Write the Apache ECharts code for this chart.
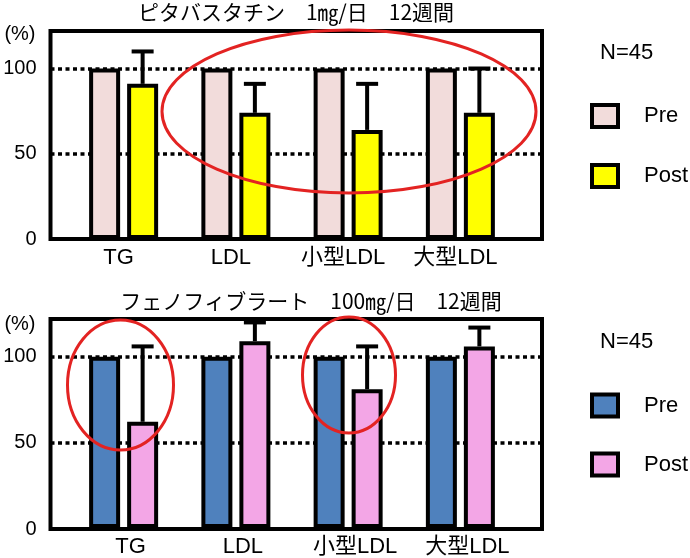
<!DOCTYPE html>
<html>
<head>
<meta charset="utf-8">
<script src="https://cdn.jsdelivr.net/npm/echarts@6/dist/echarts.min.js"></script>
<style>
html,body{margin:0;padding:0;background:#fff;}
#c{width:690px;height:558px;}
</style>
</head>
<body>
<div id="c"></div>
<script>
// ---- data ----
const categories = ['TG', 'LDL', '小型LDL', '大型LDL'];
const yTicks = [0, 50, 100];
const pitaTitle = 'ピタバスタチン　1㎎/日　12週間';
const fenoTitle = 'フェノフィブラート　100㎎/日　12週間';
const nLabel = 'N=45';
const pitaPre = [100, 100, 100, 100];
const pitaPost = [91, 74, 64, 74];
const pitaPostSD = [19, 17, 27, 26];
const fenoPre = [100, 100, 100, 100];
const fenoPost = [62, 109, 81, 106];
const fenoPostSD = [44, 11, 25, 11];

const LAT = "'Liberation Sans', Arial, 'Noto Sans CJK JP', sans-serif";
const JP = "'Noto Sans CJK JP', sans-serif";
const YMAX = 122;
const BAR_W = 31, BAR_GAP_PX = 7;
const POST_OFF = (BAR_W + BAR_GAP_PX) / 2;
const LW = 4;

function errRender(params, api) {
  const i = api.value(0), v = api.value(1), sd = api.value(2);
  const b = api.coord([i, v]);
  const t = api.coord([i, v + sd]);
  const x = b[0] + POST_OFF;
  return {
    type: 'group',
    children: [
      {type: 'line', shape: {x1: x, y1: b[1], x2: x, y2: t[1]}, style: {stroke: '#000', lineWidth: LW}},
      {type: 'line', shape: {x1: x - 11, y1: t[1], x2: x + 11, y2: t[1]}, style: {stroke: '#000', lineWidth: LW}}
    ]
  };
}

function boxY(gridIndex, gap) {
  return {
    gridIndex, type: 'value', min: 0, max: YMAX, interval: 50,
    name: '(%)', nameLocation: 'end', nameGap: gap,
    nameTextStyle: {fontFamily: LAT, fontSize: 20, color: '#000', align: 'right', verticalAlign: 'middle', padding: [0, 15, 0, 0]},
    axisLine: {show: false}, axisTick: {show: false},
    axisLabel: {fontFamily: LAT, fontSize: 20, color: '#000', margin: 14,
      formatter: v => yTicks.includes(v) ? String(v) : ''},
    splitLine: {show: true, lineStyle: {color: '#000', width: 3.5, type: [4, 3.5]}}
  };
}
function dataY(gridIndex) {
  return {gridIndex, type: 'value', min: 0, max: YMAX, show: false, splitLine: {show: false}};
}
function dataX(gridIndex, pad) {
  return {
    gridIndex, type: 'category', data: categories,
    axisLine: {show: false}, axisTick: {show: false},
    axisLabel: {fontFamily: LAT, fontSize: 22, color: '#000', margin: 8, padding: pad}
  };
}
function barSeries(name, xi, yi, data, color) {
  return {
    name, type: 'bar', xAxisIndex: xi, yAxisIndex: yi, data,
    barWidth: BAR_W, barGap: (BAR_GAP_PX / BAR_W * 100) + '%',
    itemStyle: {color, borderColor: '#000', borderWidth: LW},
    emphasis: {disabled: true}
  };
}
function errSeries(name, xi, yi, post, sd) {
  return {
    name, type: 'custom', xAxisIndex: xi, yAxisIndex: yi, clip: false,
    renderItem: errRender, z: 5,
    data: categories.map((c, i) => [i, post[i], sd[i]])
  };
}
function legend(top, names, gap) {
  return {
    orient: 'vertical', left: 590, top, padding: 0, itemGap: gap,
    itemWidth: 26, itemHeight: 22, icon: 'rect',
    itemStyle: {borderColor: '#000', borderWidth: LW},
    textStyle: {fontFamily: LAT, fontSize: 22, color: '#000', padding: [0, 0, 0, 21]},
    formatter: n => n.replace('2', ''),
    data: names, selectedMode: false
  };
}

const chart = echarts.init(document.getElementById('c'), null, {renderer: 'canvas'});
chart.setOption({
  animation: false,
  backgroundColor: '#fff',
  title: [
    {text: pitaTitle, left: 296, top: 2, textAlign: 'center', padding: 0,
      textStyle: {fontFamily: JP, fontSize: 21, fontWeight: 'normal', color: '#000'}},
    {text: fenoTitle, left: 311, top: 291, textAlign: 'center', padding: 0,
      textStyle: {fontFamily: JP, fontSize: 21, fontWeight: 'normal', color: '#000'}},
    {text: nLabel, left: 600, top: 42, padding: 0,
      textStyle: {fontFamily: LAT, fontSize: 22, fontWeight: 'normal', color: '#000'}},
    {text: nLabel, left: 600, top: 331, padding: 0,
      textStyle: {fontFamily: LAT, fontSize: 22, fontWeight: 'normal', color: '#000'}}
  ],
  legend: [
    legend(103, ['Pre', 'Post'], 34),
    legend(392.5, ['Pre2', 'Post2'], 33)
  ],
  grid: [
    {left: 50.5, width: 491.5, top: 31, height: 208, show: true, borderColor: '#000', borderWidth: LW, backgroundColor: 'transparent'},
    {left: 67.5, width: 449, top: 31, height: 208},
    {left: 50.5, width: 491.5, top: 319, height: 210, show: true, borderColor: '#000', borderWidth: LW, backgroundColor: 'transparent'},
    {left: 67.5, width: 449, top: 319, height: 210}
  ],
  xAxis: [
    {gridIndex: 0, type: 'value', show: false, splitLine: {show: false}},
    dataX(1, [0, 10, 0, 0]),
    {gridIndex: 2, type: 'value', show: false, splitLine: {show: false}},
    dataX(3, [0, 0, 0, 14])
  ],
  yAxis: [boxY(0, -3), dataY(1), boxY(2, -5), dataY(3)],
  series: [
    barSeries('Pre', 1, 1, pitaPre, '#f2dcdb'),
    barSeries('Post', 1, 1, pitaPost, '#ffff00'),
    errSeries('errTop', 1, 1, pitaPost, pitaPostSD),
    barSeries('Pre2', 3, 3, fenoPre, '#4f81bd'),
    barSeries('Post2', 3, 3, fenoPost, '#f3a6e6'),
    errSeries('errBottom', 3, 3, fenoPost, fenoPostSD)
  ],
  graphic: [
    {type: 'ellipse', z: 100, shape: {cx: 349, cy: 111.5, rx: 187, ry: 81.5}, style: {fill: null, stroke: '#e32322', lineWidth: 3}},
    {type: 'ellipse', z: 100, shape: {cx: 120.5, cy: 385, rx: 53, ry: 65}, style: {fill: null, stroke: '#e32322', lineWidth: 3}},
    {type: 'ellipse', z: 100, shape: {cx: 349, cy: 375, rx: 46.5, ry: 58}, style: {fill: null, stroke: '#e32322', lineWidth: 3}}
  ]
});
</script>
</body>
</html>
